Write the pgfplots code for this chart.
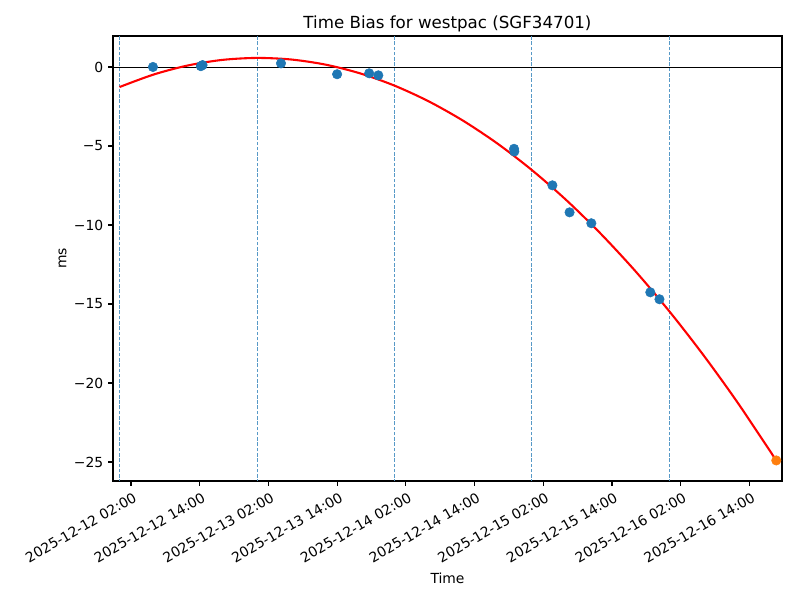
\documentclass[border=0pt]{standalone}
\usepackage{pgfplots}
\pgfplotsset{compat=1.18}
\usepackage{fontspec}
\setmainfont{DejaVu Sans}
\definecolor{tabblue}{HTML}{1F77B4}
\definecolor{taborange}{HTML}{FF7F0E}
\colorlet{vline}{tabblue!75!white}
\begin{document}
\begin{tikzpicture}
\begin{axis}[
  scale only axis,
  width=481.7pt, height=320.4pt,
  xmin=-1.14, xmax=115.7,
  ymin=-26.2, ymax=1.96,
  axis line style={line width=0.8pt},
  tick style={black, line width=0.8pt},
  tick align=outside,
  major tick length=3.5pt,
  xtick pos=bottom, ytick pos=left,
  xtick={2,14,26,38,50,62,74,86,98,110},
  xticklabels={2025-12-12 02:00,2025-12-12 14:00,2025-12-13 02:00,2025-12-13 14:00,2025-12-14 02:00,2025-12-14 14:00,2025-12-15 02:00,2025-12-15 14:00,2025-12-16 02:00,2025-12-16 14:00},
  xticklabel style={rotate=30, anchor=north east, font=\fontsize{10}{12}\selectfont, inner sep=1pt, yshift=-3pt},
  ytick={-25,-20,-15,-10,-5,0},
  yticklabels={−25,−20,−15,−10,−5,0},
  yticklabel style={font=\fontsize{10}{12}\selectfont},
  /pgf/number format/assume math mode=true,
  xlabel={Time}, ylabel={ms},
  xlabel style={font=\fontsize{10}{12}\selectfont, yshift=-2pt},
  ylabel style={font=\fontsize{10}{12}\selectfont, yshift=-1.5pt},
  title={Time Bias for westpac (SGF34701)},
  title style={font=\fontsize{12}{14}\selectfont, yshift=-6.5pt},
  clip=true,
]
% midnight reference lines
\addplot[vline, line width=0.55pt, dash pattern=on 2.6pt off 1.2pt, forget plot] coordinates {(0,-30) (0,5)};
\addplot[vline, line width=0.55pt, dash pattern=on 2.6pt off 1.2pt, forget plot] coordinates {(24,-30) (24,5)};
\addplot[vline, line width=0.55pt, dash pattern=on 2.6pt off 1.2pt, forget plot] coordinates {(48,-30) (48,5)};
\addplot[vline, line width=0.55pt, dash pattern=on 2.6pt off 1.2pt, forget plot] coordinates {(72,-30) (72,5)};
\addplot[vline, line width=0.55pt, dash pattern=on 2.6pt off 1.2pt, forget plot] coordinates {(96,-30) (96,5)};
% zero line
\addplot[black, line width=0.6pt, forget plot] coordinates {(-5,0) (120,0)};
% measured points
\addplot[only marks, mark=*, mark size=3.4pt, color=tabblue, mark options={draw=none, fill=tabblue}] coordinates {
(5.84,0.00) (14.2,0.05) (14.5,0.12) (28.2,0.23) (38.0,-0.46) (43.6,-0.40) (45.2,-0.53)
(68.9,-5.18) (68.95,-5.35) (75.6,-7.49) (78.6,-9.20) (82.4,-9.89) (92.7,-14.26) (94.3,-14.70)
};
% fit curve
\addplot[red, line width=1.5pt, smooth] coordinates {
(0,-1.270) (6,-0.473) (12,0.100) (18,0.449) (24,0.572) (30,0.472) (36,0.147) (42,-0.403)
(48,-1.177) (54,-2.176) (60,-3.399) (66,-4.846) (72,-6.519) (78,-8.415) (84,-10.537)
(90,-12.882) (96,-15.452) (102,-18.247) (108,-21.266) (114.7,-24.902)
};
% prediction point
\addplot[only marks, mark=*, mark size=3.4pt, color=taborange, mark options={draw=none, fill=taborange}] coordinates {(114.7,-24.90)};
\end{axis}
\useasboundingbox ([xshift=-81.36pt,yshift=-85.68pt]current axis.south west) rectangle ([xshift=12.96pt,yshift=25.92pt]current axis.north east);
\end{tikzpicture}
\end{document}
